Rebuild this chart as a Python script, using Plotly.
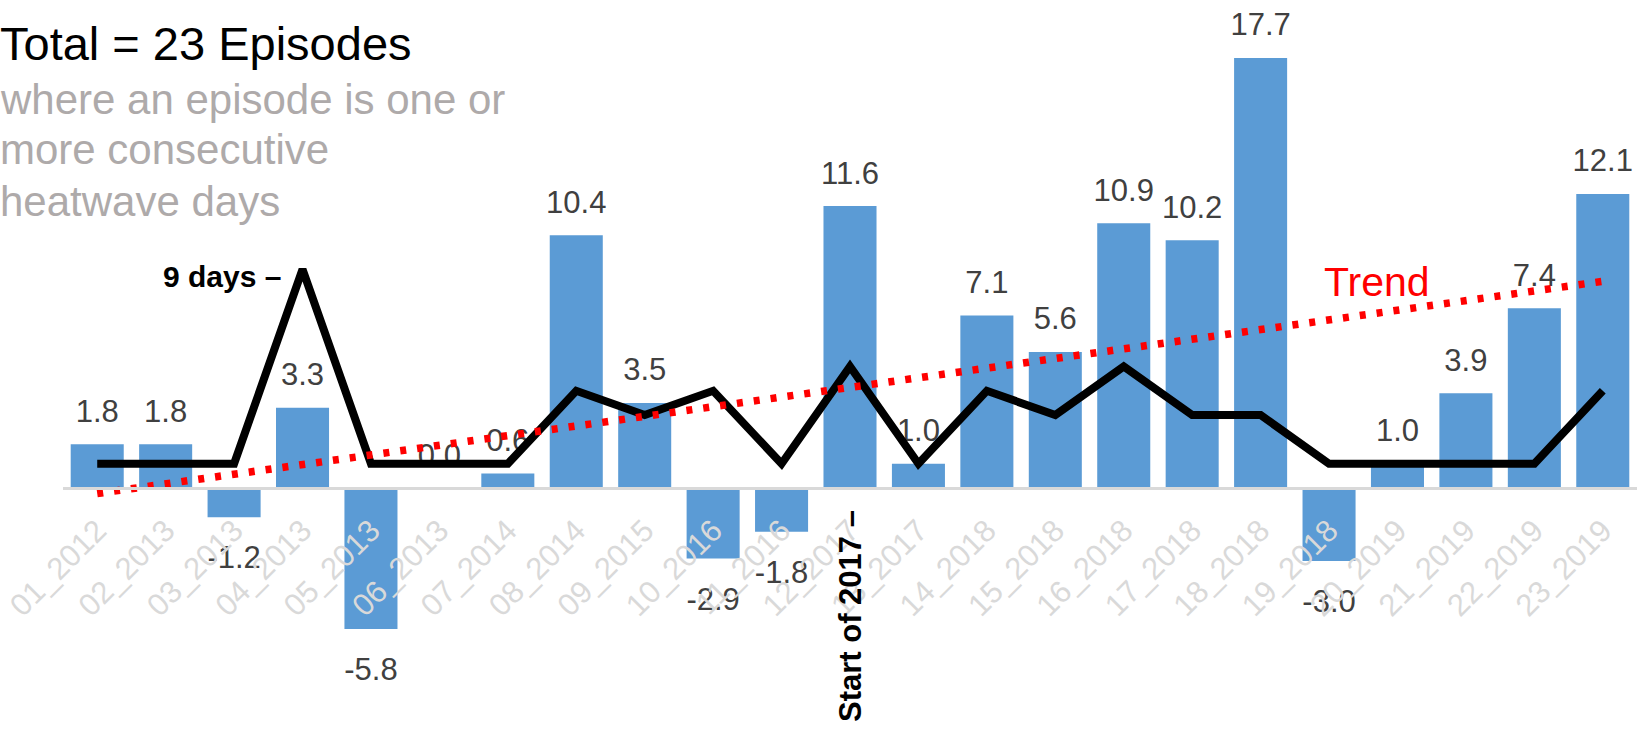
import numpy as np
import plotly.graph_objects as go

# ---------------- data ----------------
categories = ["01_2012", "02_2013", "03_2013", "04_2013", "05_2013", "06_2013",
              "07_2014", "08_2014", "09_2015", "10_2016", "11_2016", "12_2017",
              "13_2017", "14_2018", "15_2018", "16_2018", "17_2018", "18_2018",
              "19_2018", "20_2019", "21_2019", "22_2019", "23_2019"]
anomaly = [1.8, 1.8, -1.2, 3.3, -5.8, 0.0, 0.6, 10.4, 3.5, -2.9, -1.8, 11.6,
           1.0, 7.1, 5.6, 10.9, 10.2, 17.7, -3.0, 1.0, 3.9, 7.4, 12.1]
days = [1, 1, 1, 9, 1, 1, 1, 4, 3, 4, 1, 5, 1, 4, 3, 5, 3, 3, 1, 1, 1, 1, 4]

title_text = "Total = 23 Episodes"
subtitle_lines = ["where an episode is one or", "more consecutive", "heatwave days"]

# ---------------- layout constants ----------------
W, H = 1648, 730
ML, MR, MT, MB = 63, 11, 0, 0
PX_PER_UNIT = 24.3
ZERO_PX = 488
ymax = (ZERO_PX - MT) / PX_PER_UNIT
ymin = -(H - MB - ZERO_PX) / PX_PER_UNIT
FONT = "Liberation Sans, Arial, sans-serif"

def px_x(px):
    return (px - ML) / (W - ML - MR)

def px_y(py):
    return 1 - (py - MT) / (H - MT - MB)

idx = np.arange(len(categories))
slope, intercept = np.polyfit(idx, np.array(anomaly), 1)
trend = slope * idx + intercept

fig = go.Figure()

fig.add_trace(go.Bar(
    x=categories, y=anomaly,
    marker=dict(color="#5B9BD5", line=dict(width=0)),
    hoverinfo="skip",
))

# data labels (drawn beneath the lines)
text_pos = ["top center" if v >= 0 else "bottom center" for v in anomaly]
marker_sz = [22 if v >= 0 else 43 for v in anomaly]
fig.add_trace(go.Scatter(
    x=categories, y=anomaly, mode="markers+text",
    text=[f"{v:.1f}" for v in anomaly],
    textposition=text_pos,
    textfont=dict(family=FONT, size=31, color="#404040"),
    marker=dict(size=marker_sz, color="rgba(0,0,0,0)", opacity=0,
                line=dict(width=0)),
    hoverinfo="skip",
))

fig.add_trace(go.Scatter(
    x=categories, y=days, mode="lines",
    line=dict(color="black", width=8),
    hoverinfo="skip",
))

fig.add_trace(go.Scatter(
    x=categories, y=trend, mode="lines",
    line=dict(color="#FF0000", width=7.5, dash="6px,11px"),
    hoverinfo="skip",
))

annotations = [
    dict(text=title_text, xref="paper", yref="paper", x=px_x(-2), y=px_y(44),
         xanchor="left", yanchor="middle", showarrow=False,
         font=dict(family=FONT, size=47, color="black")),
]
for i, line in enumerate(subtitle_lines):
    annotations.append(dict(text=line, xref="paper", yref="paper",
                            x=px_x(-2), y=px_y(99 + 51 * i),
                            xanchor="left", yanchor="middle", showarrow=False,
                            font=dict(family=FONT, size=42, color="#AEAAAA")))
annotations += [
    dict(text="<b>9 days –</b>", xref="x", yref="y", x=categories[3], y=9,
         xanchor="right", yanchor="middle", xshift=-20, yshift=-7, showarrow=False,
         font=dict(family=FONT, size=30, color="black")),
    dict(text="<b>Start of 2017 –</b>", xref="x", yref="y", x=categories[11], y=0,
         xanchor="center", yanchor="top", yshift=-20, textangle=-90, showarrow=False,
         font=dict(family=FONT, size=31, color="black")),
    dict(text="Trend", xref="paper", yref="paper", x=px_x(1377), y=px_y(282),
         xanchor="center", yanchor="middle", showarrow=False,
         font=dict(family=FONT, size=41, color="#FF0000")),
]

fig.update_layout(
    width=W, height=H,
    margin=dict(l=ML, r=MR, t=MT, b=MB, pad=0),
    paper_bgcolor="white", plot_bgcolor="white",
    showlegend=False, bargap=0.225,
    annotations=annotations,
    xaxis=dict(
        type="category", anchor="free",
        position=(0 - ymin) / (ymax - ymin),
        showline=True, linecolor="#D9D9D9", linewidth=3,
        showgrid=False, zeroline=False, ticks="",
        tickangle=-45, ticklabelstandoff=10,
        tickfont=dict(family=FONT, size=31, color="#D9D9D9"),
        range=[-0.5, len(categories) - 0.5],
    ),
    yaxis=dict(range=[ymin, ymax], visible=False, domain=[0, 1], fixedrange=True),
)

fig.write_html("out.html", config={"displayModeBar": False},
               post_script="document.body.style.margin='0';")
